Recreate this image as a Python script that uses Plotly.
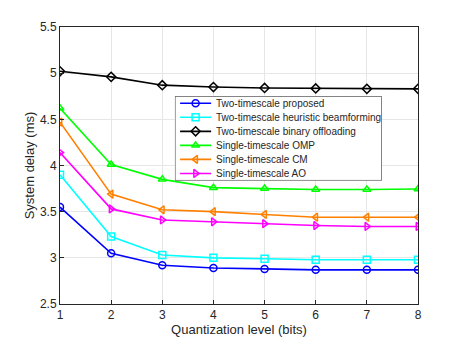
import plotly.graph_objects as go

bits = [1, 2, 3, 4, 5, 6, 7, 8]

proposed = [3.55, 3.05, 2.92, 2.89, 2.88, 2.87, 2.87, 2.87]
heuristic_bf = [3.90, 3.23, 3.03, 3.00, 2.99, 2.98, 2.98, 2.98]
binary_off = [5.02, 4.96, 4.87, 4.85, 4.84, 4.835, 4.83, 4.83]
single_omp = [4.62, 4.01, 3.85, 3.76, 3.75, 3.74, 3.74, 3.745]
single_cm = [4.47, 3.69, 3.52, 3.50, 3.47, 3.44, 3.44, 3.44]
single_ao = [4.14, 3.53, 3.41, 3.39, 3.37, 3.35, 3.34, 3.34]

names = ["Two-timescale proposed", "Two-timescale heuristic beamforming",
         "Two-timescale binary offloading", "Single-timescale OMP",
         "Single-timescale CM", "Single-timescale AO"]
series = [proposed, heuristic_bf, binary_off, single_omp, single_cm, single_ao]
colors = ["#0000ff", "#00ffff", "#000000", "#00ff00", "#ff8000", "#ff00ff"]
symbols = ["circle-open", "square-open", "diamond-open", "triangle-up-open",
           "triangle-left-open", "triangle-right-open"]

fig = go.Figure()
for name, ys, c, s in zip(names, series, colors, symbols):
    fig.add_trace(go.Scatter(
        x=bits, y=ys, name=name, mode="lines+markers", showlegend=False,
        line=dict(color=c, width=1.6),
        marker=dict(symbol=s, size=7, color=c, line=dict(width=1.5, color=c)),
    ))

# hand-made legend (plotly's own legend rows are too tall), drawn on a spare axis
# that sits on top of the main plot so the white box hides the lines behind it
leg_x0, leg_x1, leg_y0, leg_y1 = 0.321, 0.899, 0.446, 0.75
n = len(names)
fig.add_trace(go.Scatter(
    x=[0, 1, 1, 0, 0], y=[0, 0, n, n, 0], mode="lines", fill="toself",
    fillcolor="white", line=dict(color="#262626", width=1),
    xaxis="x2", yaxis="y2", showlegend=False, hoverinfo="skip"))
for i, (name, c, s) in enumerate(zip(names, colors, symbols)):
    row = n - 1 - i + 0.5
    fig.add_trace(go.Scatter(
        x=[0.025, 0.1, 0.175], y=[row, row, row], mode="lines",
        line=dict(color=c, width=1.6), xaxis="x2", yaxis="y2",
        showlegend=False, hoverinfo="skip"))
    fig.add_trace(go.Scatter(
        x=[0.1], y=[row], mode="markers", xaxis="x2", yaxis="y2",
        marker=dict(symbol=s, size=7, color=c, line=dict(width=1.5, color=c)),
        showlegend=False, hoverinfo="skip"))
    fig.add_annotation(x=0.19, y=row, xref="x2", yref="y2", text=name,
                       showarrow=False, xanchor="left", yanchor="middle",
                       font=dict(size=10, color="#262626"))

axis_common = dict(showline=True, linecolor="#262626", linewidth=1, mirror=True,
                   showgrid=True, gridcolor="#e6e6e6", gridwidth=1,
                   ticks="inside", ticklen=4, tickcolor="#262626",
                   zeroline=False, tickfont=dict(size=12, color="#262626"))

fig.update_layout(
    width=454, height=339,
    margin=dict(l=52, r=44, t=17, b=42),
    paper_bgcolor="white", plot_bgcolor="white",
    font=dict(family="Liberation Sans, Arial, sans-serif", size=12, color="#262626"),
    xaxis=dict(range=[1, 8], tickvals=bits, **axis_common,
               title=dict(text="Quantization level (bits)", font=dict(size=13), standoff=3)),
    yaxis=dict(range=[2.5, 5.5], dtick=0.5, tickformat="~g", **axis_common,
               title=dict(text="System delay (ms)", font=dict(size=13), standoff=2)),
    xaxis2=dict(domain=[leg_x0, leg_x1], range=[0, 1], anchor="y2", visible=False,
                fixedrange=True),
    yaxis2=dict(domain=[leg_y0, leg_y1], range=[0, n], anchor="x2", visible=False,
                fixedrange=True),
    showlegend=False,
)

fig.write_html("out.html")
